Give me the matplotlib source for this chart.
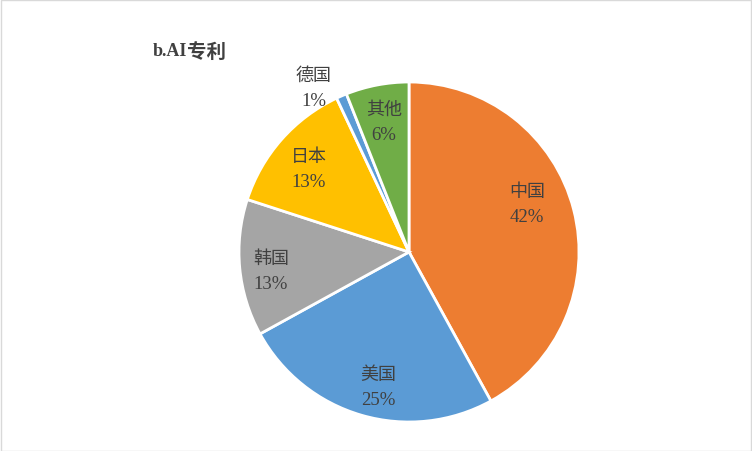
import matplotlib.pyplot as plt
from matplotlib.patches import Rectangle

# data (clockwise from 12 o'clock)
countries = ['中国', '美国', '韩国', '日本', '德国', '其他']
shares = [42, 25, 13, 13, 1, 6]
colors = ['#ED7D31', '#5B9BD5', '#A5A5A5', '#FFC000', '#5B9BD5', '#70AD47']
# label centres in pixel coordinates of the original picture
label_px = [(527, 205), (378, 388), (271, 272), (309, 170), (314, 89), (384, 123)]

W, H = 752, 452
cx, cy, r = 409, 253, 170

fig = plt.figure(figsize=(W / 100, H / 100), dpi=100)
fig.patches.append(Rectangle((0.5 / W, 0.5 / H), 1 - 1.5 / W, 1 - 1.5 / H,
                             transform=fig.transFigure, fill=False,
                             edgecolor='#D9D9D9', linewidth=1))

ax = fig.add_axes([(cx - r) / W, (H - cy - r) / H, 2 * r / W, 2 * r / H])
ax.pie(shares, colors=colors, startangle=90, counterclock=False, radius=1,
       wedgeprops={'edgecolor': 'white', 'linewidth': 2})
ax.set_xlim(-1, 1)
ax.set_ylim(-1, 1)
ax.set_aspect('auto')
ax.axis('off')

txt = '#404040'
for name, val, (px, py) in zip(countries, shares, label_px):
    x = (px - cx) / r
    y = (cy - py) / r
    ax.text(x, y + 0.075, name, ha='center', va='center', fontsize=13,
            color=txt, family=['Noto Sans CJK SC', 'DejaVu Sans'], fontweight='light')
    ax.text(x, y - 0.075, f'{val}%', ha='center', va='center', fontsize=13.5,
            color=txt, family='Liberation Serif')

fig.text(153 / W, 1 - 52 / H, 'b.AI', ha='left', va='center', fontsize=13,
         fontweight='bold', color=txt, family='Liberation Serif')
fig.text(187 / W, 1 - 52 / H, '专利', ha='left', va='center', fontsize=14,
         fontweight='bold', color=txt, family=['Noto Sans CJK SC', 'DejaVu Sans'])

fig.savefig('out.png', dpi=100)
